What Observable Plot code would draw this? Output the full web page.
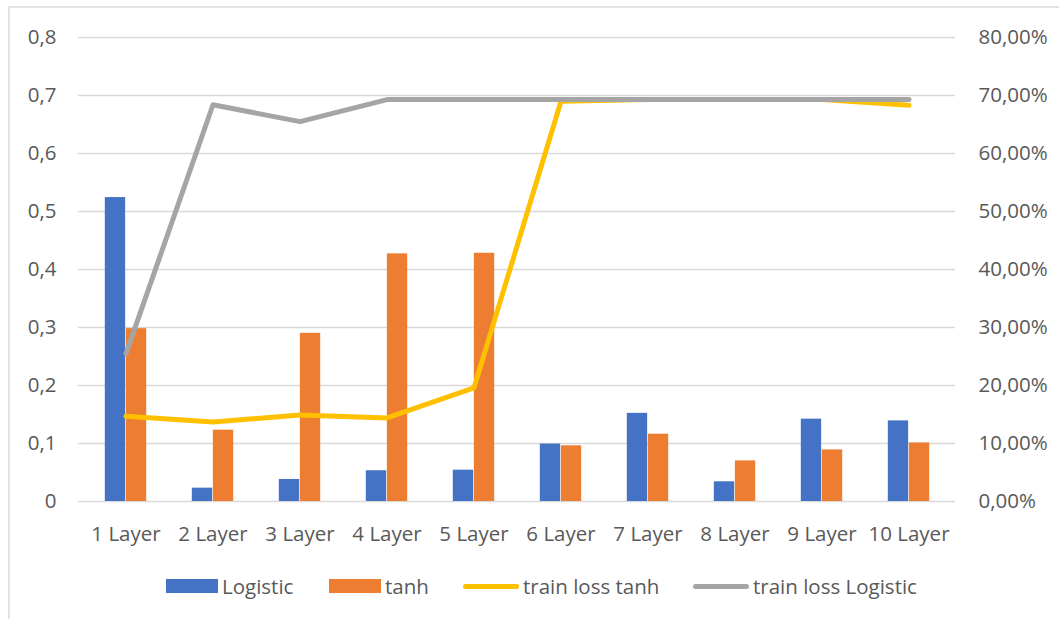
<!DOCTYPE html>
<html>
<head>
<meta charset="utf-8">
<script src="https://cdn.jsdelivr.net/npm/d3@7"></script>
<script src="https://cdn.jsdelivr.net/npm/@observablehq/plot@0.6"></script>
<style>
  html, body { margin: 0; padding: 0; background: #fff; }
  #wrap { position: relative; width: 1059px; height: 619px; overflow: hidden; font-family: "Open Sans", sans-serif; }
  #frame { position: absolute; left: 8px; top: 6px; width: 1100px; height: 700px; border: 2px solid #e3e3e3; box-sizing: border-box; }
  #chart { position: absolute; left: 0; top: 0; }
  #legend { position: absolute; left: 0; top: 573px; width: 1059px; height: 26px; }
  .item { position: absolute; top: 0; display: flex; align-items: center; height: 26px; font-size: 20.5px; color: #595959; white-space: nowrap; }
  .sw { display: inline-block; margin-right: 4px; }
</style>
</head>
<body>
<div id="wrap">
  <div id="frame"></div>
  <div id="chart"></div>
  <div id="legend"></div>
</div>
<script>
// Layer depth categories
const categories = ["1 Layer", "2 Layer", "3 Layer", "4 Layer", "5 Layer", "6 Layer", "7 Layer", "8 Layer", "9 Layer", "10 Layer"];

// Bar series (left axis)
const logistic = [0.524, 0.023, 0.038, 0.053, 0.054, 0.099, 0.152, 0.034, 0.142, 0.139];
const tanh = [0.298, 0.123, 0.290, 0.427, 0.428, 0.096, 0.116, 0.070, 0.089, 0.101];

// Line series (right axis, same 0–80 % span)
const trainLossTanh = [0.147, 0.137, 0.149, 0.144, 0.196, 0.690, 0.693, 0.693, 0.693, 0.683];
const trainLossLogistic = [0.255, 0.684, 0.655, 0.693, 0.693, 0.693, 0.693, 0.693, 0.693, 0.693];

// Axis ticks
const yTicks = [0, 0.1, 0.2, 0.3, 0.4, 0.5, 0.6, 0.7, 0.8];
const leftTickLabels = ["0", "0,1", "0,2", "0,3", "0,4", "0,5", "0,6", "0,7", "0,8"];
const rightTickLabels = ["0,00%", "10,00%", "20,00%", "30,00%", "40,00%", "50,00%", "60,00%", "70,00%", "80,00%"];

const colors = {Logistic: "#4472C4", tanh: "#ED7D31", lossTanh: "#FFC000", lossLogistic: "#A5A5A5"};

const barRows = [];
categories.forEach((c, i) => {
  barRows.push({cat: c, series: "Logistic", value: logistic[i]});
  barRows.push({cat: c, series: "tanh", value: tanh[i]});
});
const lossTanhRows = categories.map((c, i) => ({cat: c, value: trainLossTanh[i]}));
const lossLogRows = categories.map((c, i) => ({cat: c, value: trainLossLogistic[i]}));
const tickRows = yTicks.map((v, i) => ({v, left: leftTickLabels[i], right: rightTickLabels[i]}));

const W = 1059, H = 560, ML = 78, MR = 104, MT = 37, MB = 59;
const band = (W - ML - MR) / categories.length;
const barW = band * 0.24;
const font = "'Open Sans', sans-serif";

const chart = Plot.plot({
  width: W,
  height: H,
  marginLeft: ML,
  marginRight: MR,
  marginTop: MT,
  marginBottom: MB,
  style: {fontFamily: font, fontSize: "20.5px", color: "#595959", background: "transparent", overflow: "visible"},
  x: {type: "band", domain: categories, padding: 0, label: null, tickSize: 0, tickPadding: 25},
  y: {domain: [0, 0.8], label: null, ticks: yTicks, tickSize: 0, tickPadding: 22,
      tickFormat: v => leftTickLabels[yTicks.indexOf(v)]},
  marks: [
    Plot.ruleY(yTicks, {stroke: "#d9d9d9", strokeWidth: 1.5}),
    Plot.barY(barRows.filter(d => d.series === "Logistic"), {
      x: "cat", y: "value", fill: colors.Logistic,
      insetLeft: band / 2 - barW, insetRight: band / 2
    }),
    Plot.barY(barRows.filter(d => d.series === "tanh"), {
      x: "cat", y: "value", fill: colors.tanh,
      insetLeft: band / 2, insetRight: band / 2 - barW
    }),
    Plot.line(lossTanhRows, {x: "cat", y: "value", stroke: colors.lossTanh, strokeWidth: 5, strokeLinejoin: "round", strokeLinecap: "round"}),
    Plot.line(lossLogRows, {x: "cat", y: "value", stroke: colors.lossLogistic, strokeWidth: 5, strokeLinejoin: "round", strokeLinecap: "round"}),
    // right-hand percentage axis
    Plot.text(tickRows, {y: "v", text: "right", frameAnchor: "right", dx: 23, textAnchor: "start", fill: "#595959", fontSize: 20.5})
  ]
});
document.getElementById("chart").appendChild(chart);

// Legend
const legendItems = [
  {label: "Logistic", color: colors.Logistic, kind: "rect", left: 166},
  {label: "tanh", color: colors.tanh, kind: "rect", left: 329},
  {label: "train loss tanh", color: colors.lossTanh, kind: "line", left: 463},
  {label: "train loss Logistic", color: colors.lossLogistic, kind: "line", left: 693}
];
const legend = document.getElementById("legend");
legendItems.forEach(it => {
  const d = document.createElement("div");
  d.className = "item";
  d.style.left = it.left + "px";
  const s = document.createElement("span");
  s.className = "sw";
  s.style.background = it.color;
  if (it.kind === "rect") { s.style.width = "52px"; s.style.height = "14px"; }
  else { s.style.width = "56px"; s.style.height = "5px"; s.style.borderRadius = "3px"; }
  d.appendChild(s);
  const t = document.createElement("span");
  t.textContent = it.label;
  d.appendChild(t);
  legend.appendChild(d);
});
</script>
</body>
</html>
